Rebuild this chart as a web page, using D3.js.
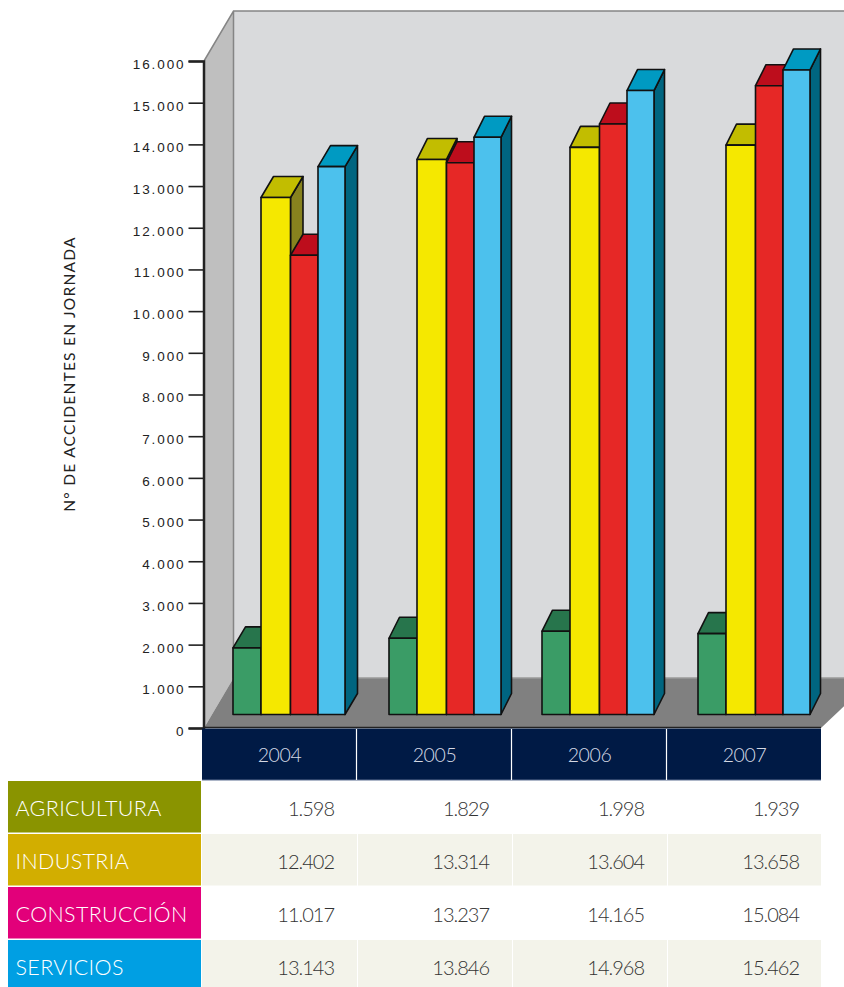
<!DOCTYPE html>
<html>
<head>
<meta charset="utf-8">
<script src="https://cdn.jsdelivr.net/npm/d3@7"></script>
<style>
html,body{margin:0;padding:0;background:#fff;overflow:hidden}
svg{display:block}
</style>
</head>
<body>
<svg id="c" width="844" height="987"></svg>
<script>
const years = ["2004","2005","2006","2007"];
const sectors = ["AGRICULTURA","INDUSTRIA","CONSTRUCCIÓN","SERVICIOS"];
const agricultura = [1598,1829,1998,1939];
const industria = [12402,13314,13604,13658];
const construccion = [11017,13237,14165,15084];
const servicios = [13143,13846,14968,15462];
const seriesValues = [agricultura,industria,construccion,servicios];
const yTicks = d3.range(0,16001,1000);
const yTitle = "N° DE ACCIDENTES EN JORNADA";
const labelColors = ["#8a9400","#d2ae00","#e2007a","#009fe3"];
const frontColors = ["#3a9c66","#f5e800","#e62826","#4cc1ed"];
const topColors = ["#27754c","#c2bd00","#bd0d1c","#009ac2"];
const sideColors = ["#1f5c3c","#87821e","#8c0a15","#006580"];

const svg = d3.select("#c");
const fmt = d3.formatLocale({decimal:",",thousands:".",grouping:[3],currency:["","€"]}).format(",d");
const W = 844;

// geometry
const y = d3.scaleLinear().domain([0,16000]).range([728,61]);
const barBase = 714.5, baseShift = barBase - y(0);
const depthX = d3.scaleOrdinal().domain(years).range([12.5,10.5,10.5,10.5]);
const depthY = -21;
const wall = {dx:29.5, dy:-50};
const xYear = d3.scaleBand().domain(years).range([202,822]);
const xBars = d3.scaleOrdinal().domain(years).range([202,358,511,667]);
const xEdges = d3.scaleOrdinal().domain(d3.range(5)).range([31,59,88.5,116,143]);
const rowY = d3.scaleBand().domain(sectors).range([781,993]);

const poly = pts => pts.map(p=>p.join(",")).join(" ");
const x0 = 204, yTop = y(16000), yZero = y(0);

// walls and floor
svg.append("polygon").attr("points",poly([[x0+wall.dx,yTop+wall.dy],[W+10,yTop+wall.dy],[W+10,yZero+wall.dy],[x0+wall.dx,yZero+wall.dy]])).attr("fill","#d9dadc");
svg.append("polygon").attr("points",poly([[x0,yTop],[x0+wall.dx,yTop+wall.dy],[x0+wall.dx,yZero+wall.dy],[x0,yZero]])).attr("fill","#bfbfbf");
svg.append("polygon").attr("points",poly([[x0,yZero],[x0+wall.dx,yZero+wall.dy],[W+30,yZero+wall.dy],[821,yZero]])).attr("fill","#808080");
svg.append("path").attr("fill","none").attr("stroke","#858585").attr("stroke-width",1.5)
   .attr("d",`M${x0},${yTop}L${x0+wall.dx},${yTop+wall.dy}H${W+10}M${x0+wall.dx},${yTop+wall.dy}V${yZero+wall.dy}`);
svg.append("path").attr("fill","none").attr("stroke","#9a9a9a").attr("stroke-width",1.5)
   .attr("d",`M${x0+wall.dx},${yZero+wall.dy}H${W+10}`);
svg.append("path").attr("fill","none").attr("stroke","#222").attr("stroke-width",1.5)
   .attr("d",`M${x0},${yZero-0.5}H821`);

// bars
years.forEach((yr,i)=>{
  const g = svg.append("g").attr("transform",`translate(${xBars(yr)},0)`);
  const dx = depthX(yr);
  seriesValues.forEach((vals,s)=>{
    const l = xEdges(s), r = xEdges(s+1);
    const t = y(vals[i]) + baseShift, b = barBase;
    const style = sel => sel.attr("stroke","#111").attr("stroke-width",1.6).attr("stroke-linejoin","round");
    g.append("polygon").attr("points",poly([[r,t],[r+dx,t+depthY],[r+dx,b+depthY],[r,b]])).attr("fill",sideColors[s]).call(style);
    g.append("polygon").attr("points",poly([[l,t],[l+dx,t+depthY],[r+dx,t+depthY],[r,t]])).attr("fill",topColors[s]).call(style);
    g.append("rect").attr("x",l).attr("y",t).attr("width",r-l).attr("height",b-t).attr("fill",frontColors[s]).call(style);
  });
});

// y axis
const axis = d3.axisLeft(y).tickValues(yTicks).tickFormat(fmt).tickSize(15).tickPadding(3);
const ag = svg.append("g").attr("transform","translate(203.5,0)").call(axis);
ag.select(".domain").attr("stroke","#222").attr("stroke-width",2.5);
ag.selectAll(".tick line").attr("stroke","#222").attr("stroke-width",1.6);
ag.selectAll(".tick text").attr("fill","#222").attr("dy","0.62em").attr("y",-1)
  .style("font-family","'Liberation Sans',Arial,sans-serif").style("font-size","13.5px").style("letter-spacing","1.9px");

// y title
svg.append("text").attr("transform","translate(75,374) rotate(-90)").attr("text-anchor","middle")
  .attr("fill","#222").style("font-family","Lato,sans-serif").style("font-size","15.5px").style("letter-spacing","1.25px").text(yTitle);

// table header
svg.append("rect").attr("x",202).attr("y",728.5).attr("width",619).attr("height",51.5).attr("fill","#001a45");
svg.append("line").attr("x1",202).attr("x2",821).attr("y1",780).attr("y2",780).attr("stroke","#5c6f92").attr("stroke-width",1);
years.forEach((yr,i)=>{
  if(i>0) svg.append("line").attr("x1",xYear(yr)-0.5).attr("x2",xYear(yr)-0.5).attr("y1",729).attr("y2",780).attr("stroke","#fff").attr("stroke-width",1.2);
  svg.append("text").attr("x",xYear(yr)+xYear.bandwidth()/2).attr("y",762).attr("text-anchor","middle")
     .attr("fill","#d5d9e4").style("font-family","Lato,sans-serif").style("font-weight",300).style("font-size","19.5px").style("letter-spacing","-0.4px").text(yr);
});

// table rows
sectors.forEach((name,r)=>{
  const ry = rowY(name), rh = rowY.bandwidth()-1.5;
  svg.append("rect").attr("x",8).attr("y",ry).attr("width",193).attr("height",rh).attr("fill",labelColors[r]);
  svg.append("text").attr("x",15.5).attr("y",ry+34.5).attr("fill","#fff")
     .style("font-family","Lato,sans-serif").style("font-weight",300).style("font-size","21.5px").style("letter-spacing","0.35px").text(name);
  years.forEach((yr,c)=>{
    if(r%2===1) svg.append("rect").attr("x",xYear(yr)+(c?1:0)).attr("y",ry).attr("width",xYear.bandwidth()-(c?1:0)-(c===3?1:0)).attr("height",rh).attr("fill","#f3f3ea");
    svg.append("text").attr("x",xYear(yr)+132).attr("y",ry+34.5).attr("text-anchor","end").attr("fill","#333")
       .style("font-family","Lato,sans-serif").style("font-weight",300).style("font-size","20px").style("letter-spacing","-1px").text(fmt(seriesValues[r][c]));
  });
});
</script>
</body>
</html>
